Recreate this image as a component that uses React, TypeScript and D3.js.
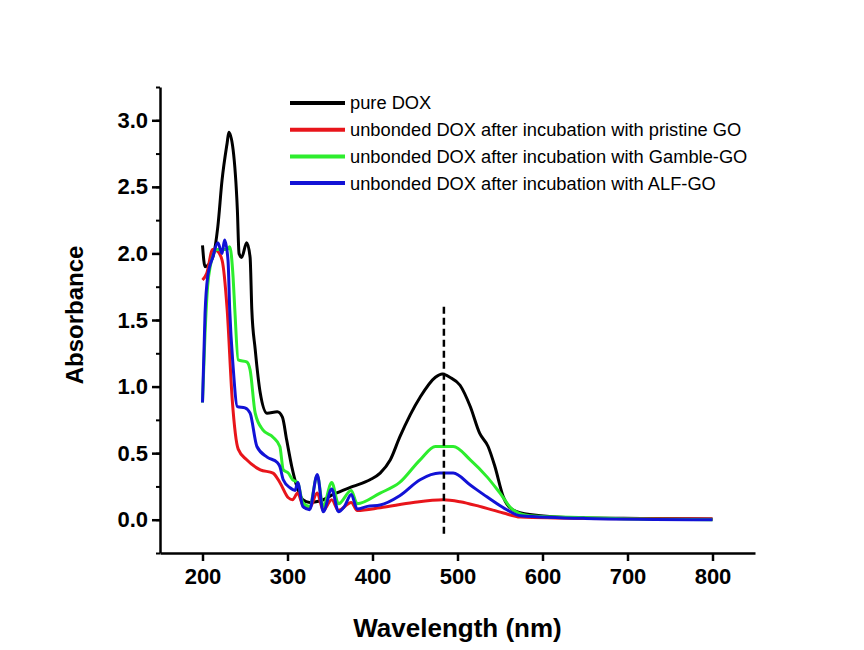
import React, { useRef, useEffect } from 'react';
import * as d3 from 'd3';

// wavelength (nm) / absorbance pairs
const pureDox: [number, number][] = [
  [200, 2.06], [203, 1.9], [212, 1.97], [218, 2.2], [223, 2.55], [229, 2.83], [231, 2.91],
  [236, 2.78], [241, 2.33], [243, 2.0], [246, 1.97], [252, 2.08], [256, 1.97], [258, 1.58],
  [262, 1.28], [268, 0.95], [276, 0.8], [288, 0.81], [294, 0.77], [299, 0.6], [305, 0.4],
  [311, 0.25], [318, 0.15], [326, 0.13], [338, 0.14], [354, 0.19], [377, 0.25], [397, 0.3],
  [409, 0.35], [421, 0.45], [432, 0.62], [456, 0.92], [474, 1.07], [482, 1.095], [491, 1.07],
  [503, 1.01], [515, 0.85], [526, 0.65], [536, 0.55], [544, 0.4], [554, 0.17], [565, 0.075],
  [585, 0.04], [644, 0.015], [720, 0.01], [800, 0.005],
];

const pristineGO: [number, number][] = [
  [200, 1.8], [205, 1.85], [212, 2.03], [217, 2.02], [223, 1.95], [229, 1.58], [235, 0.9],
  [242, 0.53], [252, 0.45], [268, 0.375], [283, 0.35], [291, 0.28], [301, 0.165], [306, 0.15],
  [312, 0.2], [318, 0.11], [326, 0.09], [335, 0.2], [342, 0.07], [352, 0.15], [360, 0.07],
  [375, 0.13], [382, 0.07], [409, 0.09], [448, 0.13], [483, 0.15], [503, 0.135], [526, 0.1],
  [554, 0.05], [574, 0.02], [650, 0.01], [800, 0.005],
];

const gambleGO: [number, number][] = [
  [200, 0.88], [203, 1.4], [206, 1.75], [209, 1.9], [217, 2.03], [229, 2.03], [232, 2.05],
  [236, 1.82], [238, 1.58], [242, 1.2], [252, 1.185], [256, 1.125], [262, 0.8], [271, 0.675],
  [283, 0.62], [291, 0.55], [295, 0.375], [301, 0.35], [306, 0.3], [312, 0.28], [318, 0.13],
  [326, 0.1], [335, 0.33], [342, 0.1], [352, 0.28], [360, 0.12], [375, 0.22], [382, 0.12],
  [409, 0.2], [432, 0.28], [456, 0.45], [474, 0.55], [495, 0.55], [515, 0.45], [535, 0.32],
  [550, 0.2], [565, 0.075], [585, 0.03], [650, 0.015], [800, 0.0],
];

const alfGO: [number, number][] = [
  [200, 0.88], [203, 1.55], [206, 1.82], [212, 1.97], [218, 2.08], [223, 2.0], [226, 2.1],
  [230, 1.95], [232, 1.58], [236, 1.15], [241, 0.85], [250, 0.84], [256, 0.8], [264, 0.55],
  [276, 0.47], [288, 0.43], [291, 0.4], [295, 0.3], [303, 0.24], [309, 0.22], [312, 0.28],
  [318, 0.1], [326, 0.075], [335, 0.34], [342, 0.06], [352, 0.23], [360, 0.06], [367, 0.1],
  [375, 0.19], [382, 0.08], [394, 0.1], [409, 0.11], [432, 0.18], [456, 0.3], [479, 0.35],
  [495, 0.35], [515, 0.26], [535, 0.17], [558, 0.075], [574, 0.03], [650, 0.01], [800, 0.0],
];

const seriesNames = [
  'pure DOX',
  'unbonded DOX after incubation with pristine GO',
  'unbonded DOX after incubation with Gamble-GO',
  'unbonded DOX after incubation with ALF-GO',
];
const seriesColors = ['#000000', '#e8151b', '#2ded2d', '#1212d6'];
const seriesData = [pureDox, pristineGO, gambleGO, alfGO];

const xTicks = [200, 300, 400, 500, 600, 700, 800];
const yTicks = [0, 0.5, 1, 1.5, 2, 2.5, 3];
const peakLine = { wavelength: 484, from: -0.12, to: 1.6 };

const App = () => {
  const svgRef = useRef<SVGSVGElement>(null);

  useEffect(() => {
    const svg = d3.select(svgRef.current);
    svg.selectAll('*').remove();

    const width = 864;
    const height = 650;
    const left = 160, right = 755, top = 87, bottom = 553;
    const font = 'Arial, "Liberation Sans", sans-serif';

    const x = d3.scaleLinear().domain([150, 850]).range([left, right]);
    const y = d3.scaleLinear().domain([-0.25, 3.25]).range([bottom, top]);

    svg
      .attr('width', width)
      .attr('height', height)
      .attr('viewBox', [0, 0, width, height])
      .style('font-family', font);

    svg.append('rect').attr('width', width).attr('height', height).attr('fill', '#fff');

    // curves
    const line = d3.line<[number, number]>()
      .x(d => x(d[0]))
      .y(d => y(d[1]))
      .curve(d3.curveMonotoneX);

    seriesData.forEach((data, i) => {
      svg.append('path')
        .datum(data)
        .attr('fill', 'none')
        .attr('stroke', seriesColors[i])
        .attr('stroke-width', 3)
        .attr('stroke-linejoin', 'round')
        .attr('d', line);
    });

    // dashed marker at the DOX peak
    svg.append('line')
      .attr('x1', x(peakLine.wavelength))
      .attr('x2', x(peakLine.wavelength))
      .attr('y1', y(peakLine.to))
      .attr('y2', y(peakLine.from))
      .attr('stroke', '#000')
      .attr('stroke-width', 2.5)
      .attr('stroke-dasharray', '7,4');

    // axes
    const xAxis = svg.append('g')
      .attr('transform', `translate(0,${bottom})`)
      .call(d3.axisBottom(x).tickValues(xTicks).tickSize(8).tickSizeOuter(0).tickPadding(7));
    xAxis.select('.domain').attr('stroke-width', 2.5);
    xAxis.selectAll('.tick line').attr('stroke-width', 2.5);
    xAxis.selectAll('.tick text')
      .attr('font-size', 22).attr('font-weight', 'bold').attr('font-family', font);

    const yMinor = svg.append('g')
      .attr('transform', `translate(${left},0)`)
      .call(d3.axisLeft(y).tickValues(d3.range(-0.25, 3.26, 0.25)).tickSize(4).tickFormat(() => '').tickSizeOuter(0));
    yMinor.select('.domain').remove();
    yMinor.selectAll('.tick line').attr('stroke-width', 2);

    const yAxis = svg.append('g')
      .attr('transform', `translate(${left},0)`)
      .call(d3.axisLeft(y).tickValues(yTicks).tickSize(8).tickSizeOuter(0).tickPadding(4).tickFormat(d3.format('.1f')));
    yAxis.select('.domain').attr('stroke-width', 2.5);
    yAxis.selectAll('.tick line').attr('stroke-width', 2.5);
    yAxis.selectAll('.tick text')
      .attr('font-size', 22).attr('font-weight', 'bold').attr('font-family', font);

    // axis titles
    svg.append('text')
      .attr('x', (left + right) / 2)
      .attr('y', 637)
      .attr('text-anchor', 'middle')
      .attr('font-size', 26)
      .attr('font-weight', 'bold')
      .text('Wavelength (nm)');

    svg.append('text')
      .attr('transform', `translate(83,${(top + bottom) / 2 - 5}) rotate(-90)`)
      .attr('text-anchor', 'middle')
      .attr('font-size', 24)
      .attr('font-weight', 'bold')
      .text('Absorbance');

    // legend
    const legend = svg.append('g');
    seriesNames.forEach((name, i) => {
      const ly = 103 + i * 26.7;
      legend.append('line')
        .attr('x1', 290).attr('x2', 345)
        .attr('y1', ly).attr('y2', ly)
        .attr('stroke', seriesColors[i])
        .attr('stroke-width', 4);
      legend.append('text')
        .attr('x', 350)
        .attr('y', ly)
        .attr('dy', '0.35em')
        .attr('font-size', 18.3)
        .text(name);
    });
  }, []);

  return <svg ref={svgRef} style={{ position: 'absolute', left: 0, top: 0 }}></svg>;
};

export default App;
